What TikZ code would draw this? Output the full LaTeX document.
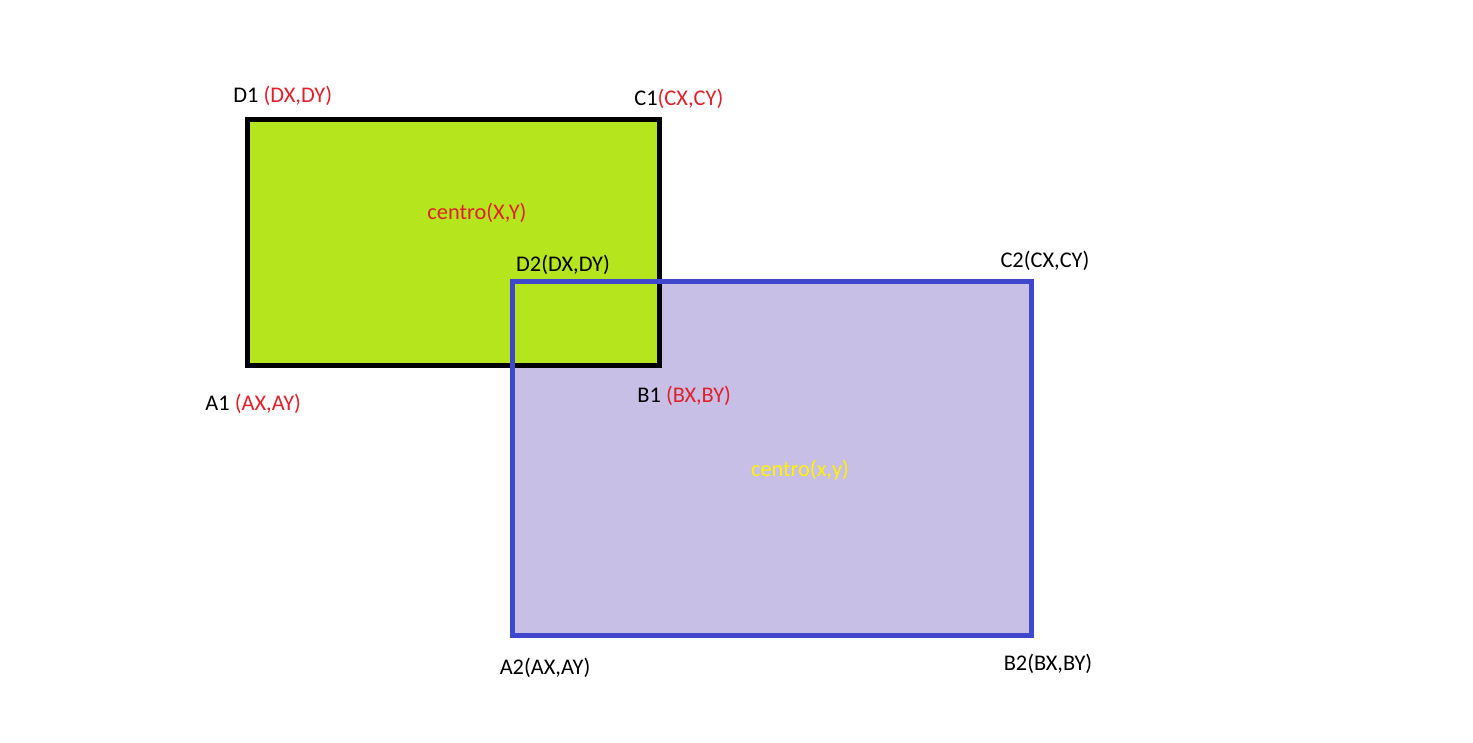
\documentclass[tikz,border=0pt]{standalone}
\usepackage{fontspec}
\setmainfont{Carlito}
\usepackage{xcolor}
\usetikzlibrary{positioning}

\definecolor{limefill}{HTML}{B5E61D}
\definecolor{lavfill}{HTML}{C8BFE7}
\definecolor{blueline}{HTML}{3F48CC}
\definecolor{txtred}{HTML}{E0202A}
\definecolor{txtyellow}{HTML}{FFF200}

\tikzset{
    lbl/.style={inner sep=0pt, font=\fontsize{11.2}{13}\selectfont},
}

\begin{document}
\begin{tikzpicture}[x=0.5pt, y=-0.5pt]
    \useasboundingbox (0,0) rectangle (1473,743);

    % second rectangle, fill only
    \fill[lavfill] (512,282) rectangle (1031,635);

    % first rectangle
    \draw[line width=2.5pt, fill=limefill] (247,120) rectangle (659,366);

    % second rectangle, border on top
    \draw[line width=2.5pt, draw=blueline] (512,282) rectangle (1031,635);

    % labels of the first rectangle
    \node[lbl, anchor=west] (d1) at (233,96) {D1 \textcolor{txtred}{(DX,DY)}};
    \node[lbl, anchor=west] (c1) at (634,99) {C1\textcolor{txtred}{(CX,CY)}};
    \node[lbl, anchor=west] (a1) at (205,404) {A1 \textcolor{txtred}{(AX,AY)}};
    \node[lbl, anchor=west] (b1) at (637,396) {B1 \textcolor{txtred}{(BX,BY)}};
    \node[lbl, text=txtred] (ctr1) at (477,213) {centro(X,Y)};

    % labels of the second rectangle
    \node[lbl] (d2) at (563,265) {D2(DX,DY)};
    \node[lbl] (c2) at (1045,261) {C2(CX,CY)};
    \node[lbl] (a2) at (545,668) {A2(AX,AY)};
    \node[lbl] (b2) at (1048,664) {B2(BX,BY)};
    \node[lbl, text=txtyellow] (ctr2) at (800,470) {centro(x,y)};
\end{tikzpicture}
\end{document}
